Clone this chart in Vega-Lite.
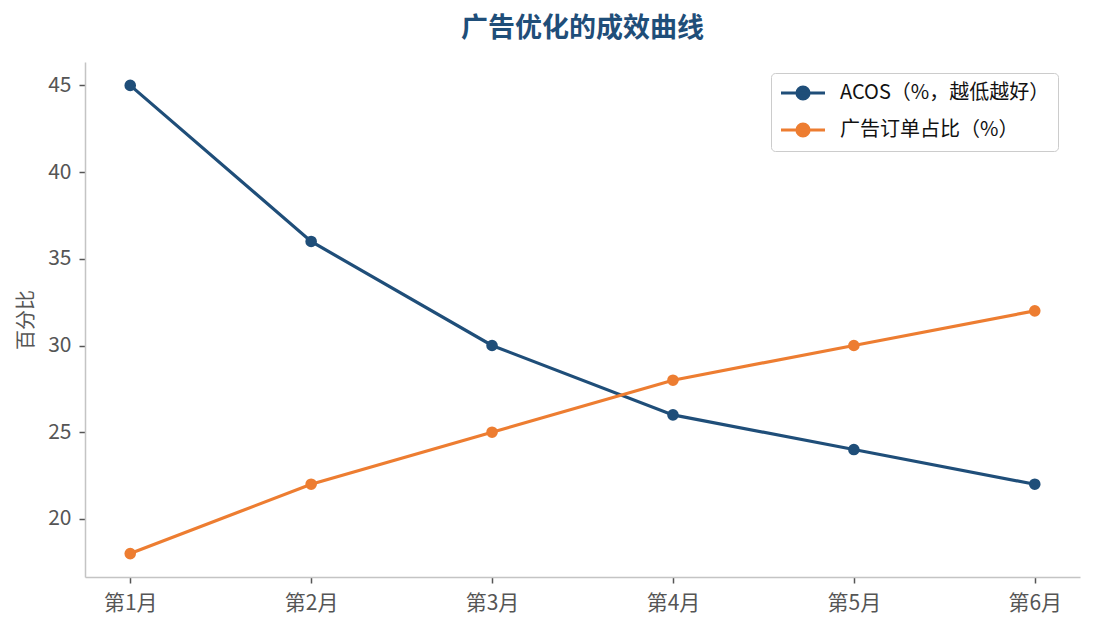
{
  "$schema": "https://vega.github.io/schema/vega-lite/v6.json",
  "width": 995,
  "height": 515,
  "autosize": {"type": "none"},
  "padding": {"left": 85, "top": 62, "right": 15, "bottom": 53},
  "background": "white",
  "title": {
    "text": "广告优化的成效曲线",
    "font": "Noto Sans CJK SC",
    "fontSize": 27,
    "fontWeight": "bold",
    "color": "#1f4e79",
    "anchor": "middle",
    "offset": 19
  },
  "data": {
    "values": [
      {"月份": "第1月", "系列": "ACOS（%，越低越好）", "值": 45},
      {"月份": "第2月", "系列": "ACOS（%，越低越好）", "值": 36},
      {"月份": "第3月", "系列": "ACOS（%，越低越好）", "值": 30},
      {"月份": "第4月", "系列": "ACOS（%，越低越好）", "值": 26},
      {"月份": "第5月", "系列": "ACOS（%，越低越好）", "值": 24},
      {"月份": "第6月", "系列": "ACOS（%，越低越好）", "值": 22},
      {"月份": "第1月", "系列": "广告订单占比（%）", "值": 18},
      {"月份": "第2月", "系列": "广告订单占比（%）", "值": 22},
      {"月份": "第3月", "系列": "广告订单占比（%）", "值": 25},
      {"月份": "第4月", "系列": "广告订单占比（%）", "值": 28},
      {"月份": "第5月", "系列": "广告订单占比（%）", "值": 30},
      {"月份": "第6月", "系列": "广告订单占比（%）", "值": 32}
    ]
  },
  "mark": {
    "type": "line",
    "strokeWidth": 3.2,
    "point": {"filled": true, "size": 135, "opacity": 1}
  },
  "encoding": {
    "x": {
      "field": "月份",
      "type": "ordinal",
      "sort": null,
      "scale": {"type": "point", "padding": 0.25},
      "axis": {
        "title": null,
        "labelAngle": 0,
        "labelPadding": 9
      }
    },
    "y": {
      "field": "值",
      "type": "quantitative",
      "scale": {"domain": [16.65, 46.35], "nice": false, "zero": false},
      "axis": {
        "title": "百分比",
        "values": [20, 25, 30, 35, 40, 45],
        "labelPadding": 8,
        "titlePadding": 11
      }
    },
    "color": {
      "field": "系列",
      "type": "nominal",
      "sort": ["ACOS（%，越低越好）", "广告订单占比（%）"],
      "scale": {
        "domain": ["ACOS（%，越低越好）", "广告订单占比（%）"],
        "range": ["#1f4e79", "#ed7d31"]
      },
      "legend": {
        "title": null,
        "orient": "none",
        "legendX": 686,
        "legendY": 11,
        "symbolType": "M-1,0L3.4,0M1.8,0A0.6,0.6,0,1,1,0.6,0A0.6,0.6,0,1,1,1.8,0Z",
        "symbolSize": 400,
        "symbolStrokeWidth": 3.2,
        "symbolOpacity": 1,
        "labelFont": "Noto Sans CJK SC",
        "labelFontSize": 20,
        "labelColor": "#111111",
        "labelOffset": 37,
        "labelLimit": 500,
        "rowPadding": 11,
        "padding": 8,
        "strokeColor": "#cccccc",
        "cornerRadius": 4,
        "fillColor": "white"
      }
    }
  },
  "config": {
    "view": {"stroke": null},
    "font": "Noto Sans CJK SC",
    "axis": {
      "grid": false,
      "domainColor": "#c4c4c4",
      "domainWidth": 1.5,
      "tickColor": "#555555",
      "tickWidth": 1.5,
      "tickSize": 6,
      "labelColor": "#555555",
      "labelFont": "Noto Sans CJK SC",
      "labelFontSize": 21,
      "titleFont": "Noto Sans CJK SC",
      "titleFontSize": 20,
      "titleFontWeight": "normal",
      "titleColor": "#555555"
    }
  }
}
